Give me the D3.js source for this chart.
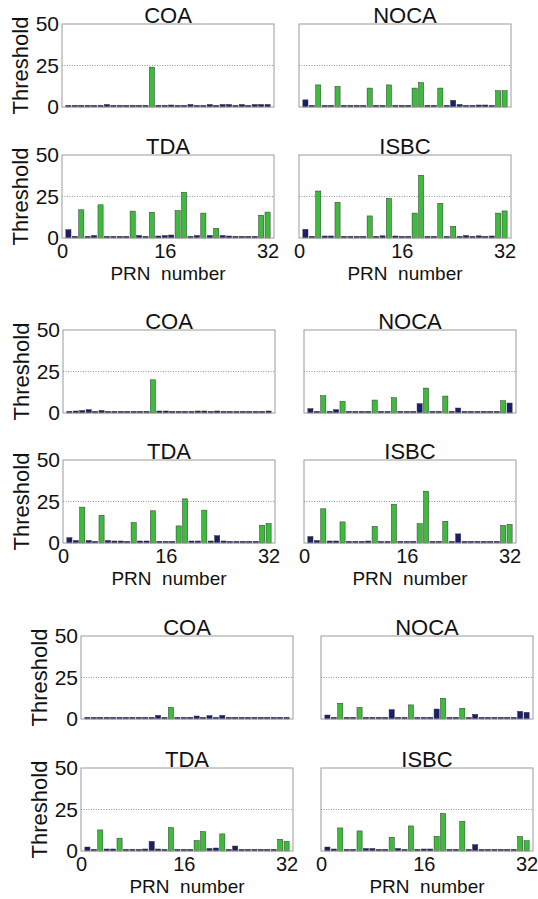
<!DOCTYPE html>
<html>
<head>
<meta charset="utf-8">
<script src="https://cdn.jsdelivr.net/npm/d3@7"></script>
<style>
  body { margin: 0; background: #fff; }
  text { font-family: Arial, "Liberation Sans", Helvetica, sans-serif; fill: #111; }
</style>
</head>
<body>
<svg width="538" height="899"></svg>
<script>
var svg = d3.select("svg"),
  width = +svg.attr("width"),
  height = +svg.attr("height");

// PRN numbers 1..32
var prns = [1,2,3,4,5,6,7,8,9,10,11,12,13,14,15,16,17,18,19,20,21,22,23,24,25,26,27,28,29,30,31,32];
var methods = ["COA", "NOCA", "TDA", "ISBC"];
var yTicks = [0, 25, 50];
var xTicks = [0, 16, 32];

// threshold values per PRN, one array per panel (group 1..3)
var coa1  = [1,1,1,1,1,1,1.5,1,1,1,1,1,1,24,1,1,1.2,1,1,1.5,1,1,1.5,1,1.5,1.5,1,1.5,1,1.5,1.5,1.5];
var noca1 = [4.3,1,13.3,1,1,12.4,1,1,1,1,11.4,1,1,13.3,1,1,1,11.4,14.7,1,1,11.4,1,4,1.5,1,1,1.2,1.2,1,9.8,9.8];
var tda1  = [5,1,17,1,1.5,20,1,1,1,1,16.2,1.5,1,15.5,1.2,1.5,1.8,16.5,27.5,1,1.5,15,1.5,5.8,1.5,1.2,1,1,1,1,13.7,15.6];
var isbc1 = [5.2,1,28.3,1.2,1.2,21.5,1,1,1,1,13.3,1,1.3,23.9,1.2,1,1,15,37.8,1,1,20.9,1,7,1,1.5,1,1.3,1,1.2,15,16.3];

var coa2  = [1,1.2,1.5,2,1,1.5,1,1,1,1,1,1,1,20,1.2,1.2,1,1,1,1,1.2,1.2,1,1.2,1,1,1,1,1,1,1,1.2];
var noca2 = [2.6,1,10.4,1,2,7,1,1,1,1,7.8,1,1,9.2,1,1,1,5.6,15,1,1,10.2,1,3,1,1,1,1,1,1,7.4,6];
var tda2  = [3.2,1.5,21.6,1.5,1,16.7,1.5,1.2,1.2,1,12.3,1.2,1.2,19.4,1,1,1,10.3,26.6,1.2,1.2,19.8,1.2,4.4,1.2,1,1,1,1,1,10.7,11.7];
var isbc2 = [3.9,1.5,20.6,1.2,1.2,12.7,1,1,1,1.2,10,1,1,23.3,1,1,1,11.6,31.2,1,1,13.1,1,5.5,1,1,1,1,1,1,10.6,11.2];

var coa3  = [1,1,1,1,1,1,1,1,1,1,1,2.2,1,7,1,1,1,1.8,1,2,1,2.2,1,1,1,1,1,1,1,1,1,1];
var noca3 = [2.4,1,9.5,1,1,6.9,1,1,1,1,5.6,1,1,8.5,1,1,1,6,12.5,1,1,6.5,1,2.8,1,1,1,1,1,1,4.6,4];
var tda3  = [2.4,1,12.7,1.2,1.2,7.7,1,1,1,1.2,5.8,1.2,1,14.1,1,1,1,6.3,11.7,1.5,1.8,10.3,1,3,1,1,1,1,1,1,7.1,5.8];
var isbc3 = [2.4,1.2,13.9,1,1,12.1,1.5,1.5,1,1,8.3,1.5,1,15.1,1,1.2,1.2,8.9,22.6,1,1,17.9,1,3.8,1,1,1,1,1,1,8.7,6.2];

// PRNs drawn in green in each panel (the rest are blue)
var green1 = [[14], [3,6,11,14,18,19,22,31,32], [3,6,11,14,18,19,22,24,31,32], [3,6,11,14,18,19,22,24,31,32]];
var green2 = [[14], [3,6,11,14,19,22,31], [3,6,11,14,18,19,22,31,32], [3,6,11,14,18,19,22,31,32]];
var green3 = [[14], [3,6,14,19,22], [3,6,14,18,19,22,31,32], [3,6,11,14,18,19,22,31,32]];

var groups = [
  { values: [coa1, noca1, tda1, isbc1], green: green1, top: 24, bottom: 155, left: 62, right: 299 },
  { values: [coa2, noca2, tda2, isbc2], green: green2, top: 330, bottom: 460, left: 63, right: 304 },
  { values: [coa3, noca3, tda3, isbc3], green: green3, top: 636, bottom: 768, left: 81, right: 321 }
];

var pw = 212, ph = 83;
var blue = "#1c1c70", green = "#3dbb3d";

groups.forEach(function (g) {
  methods.forEach(function (m, k) {
    var col = k % 2, row = Math.floor(k / 2);
    var px = col === 0 ? g.left : g.right;
    var py = row === 0 ? g.top : g.bottom;
    var vals = g.values[k];
    var greens = g.green[k];

    var x = d3.scaleLinear().domain([0, 33]).range([px, px + pw]);
    var y = d3.scaleLinear().domain([0, 50]).range([py + ph, py]);
    var bw = x(0.8) - x(0);

    var p = svg.append("g");

    // dotted grid line at 25
    p.append("line")
      .attr("x1", px).attr("x2", px + pw)
      .attr("y1", y(25)).attr("y2", y(25))
      .attr("stroke", "#777")
      .attr("stroke-width", 0.8)
      .attr("stroke-dasharray", "1,1.5");

    // bars
    p.selectAll("rect.bar")
      .data(prns)
      .enter()
      .append("rect")
      .attr("class", "bar")
      .attr("x", function (d) { return x(d) - bw / 2; })
      .attr("y", function (d, i) { return y(vals[i]); })
      .attr("width", bw)
      .attr("height", function (d, i) { return y(0) - y(vals[i]); })
      .attr("fill", function (d) { return greens.indexOf(d) >= 0 ? green : blue; })
      .attr("stroke", "#333")
      .attr("stroke-width", 0.5);

    // box
    p.append("rect")
      .attr("x", px).attr("y", py)
      .attr("width", pw).attr("height", ph)
      .attr("fill", "none")
      .attr("stroke", "#9a9a9a")
      .attr("stroke-width", 1);

    // title
    p.append("text")
      .attr("x", px + pw / 2)
      .attr("y", py - 1)
      .attr("text-anchor", "middle")
      .attr("font-size", 22)
      .text(m);

    if (col === 0) {
      var yAxis = d3.axisLeft(y).tickValues(yTicks).tickSize(0).tickPadding(3);
      p.append("g")
        .attr("transform", "translate(" + px + ",0)")
        .call(yAxis)
        .call(function (s) {
          s.select(".domain").remove();
          s.selectAll("text").attr("font-size", 21).attr("font-family", null).attr("fill", "#111");
        });
      p.append("text")
        .attr("transform", "translate(" + (px - 42) + "," + (py + ph / 2) + ") rotate(-90)")
        .attr("text-anchor", "middle")
        .attr("dominant-baseline", "central")
        .attr("font-size", 22)
        .text("Threshold");
    }

    if (row === 1) {
      var xAxis = d3.axisBottom(x).tickValues(xTicks).tickSize(0).tickPadding(6).tickFormat(d3.format("d"));
      p.append("g")
        .attr("transform", "translate(0," + (py + ph) + ")")
        .call(xAxis)
        .call(function (s) {
          s.select(".domain").remove();
          s.selectAll("text").attr("font-size", 20).attr("font-family", null).attr("fill", "#111");
        });
      p.append("text")
        .attr("x", px + pw / 2)
        .attr("y", py + ph + 42)
        .attr("text-anchor", "middle")
        .attr("font-size", 19)
        .style("white-space", "pre")
        .text("PRN  number");
    }
  });
});
</script>
</body>
</html>
